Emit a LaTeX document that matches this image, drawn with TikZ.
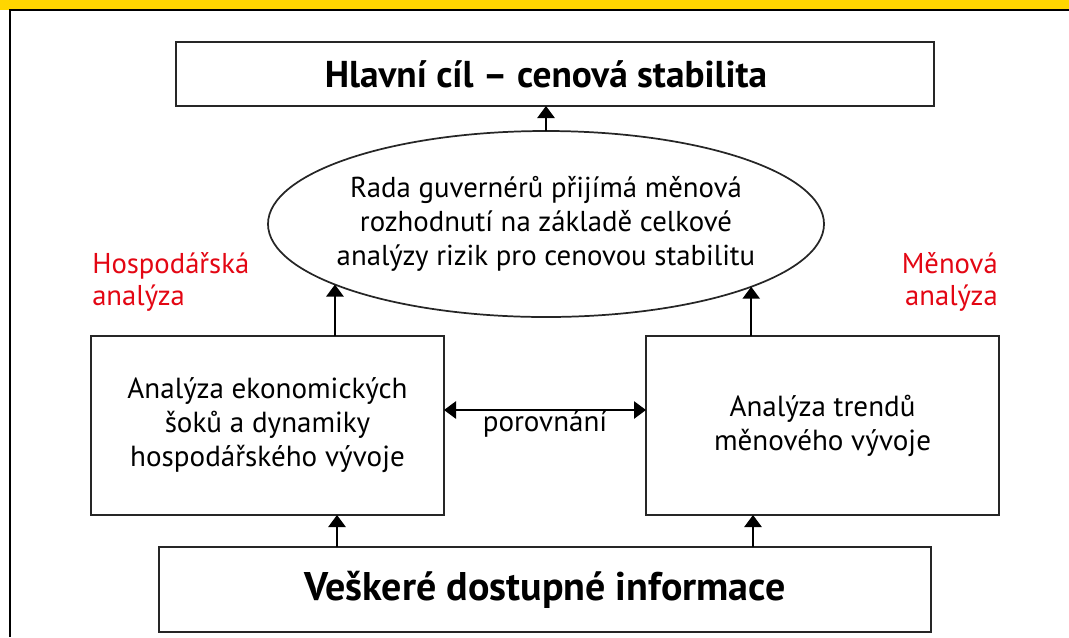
\documentclass[tikz,border=0pt]{standalone}
\usepackage{fontspec}
\setmainfont{PT Sans}
\usetikzlibrary{arrows.meta,shapes.geometric}
\definecolor{frameyellow}{RGB}{255,214,0}
\definecolor{labelred}{RGB}{227,6,19}
\tikzset{
  box/.style={draw=black!85,line width=1.5pt,rectangle,inner sep=0pt,outer sep=0pt},
  ellbox/.style={draw=black!85,line width=1.3pt,ellipse,inner sep=0pt,outer sep=0pt},
  bodytext/.style={align=center,font=\fontsize{21.8pt}{25.5pt}\selectfont},
  elltextstyle/.style={align=center,inner sep=0pt,font=\fontsize{21.6pt}{25.5pt}\selectfont},
  titletext/.style={inner sep=0pt,font=\fontsize{28pt}{32pt}\selectfont\bfseries},
  bottext/.style={font=\fontsize{30pt}{34pt}\selectfont\bfseries},
  redlabel/.style={text=labelred,font=\fontsize{21.5pt}{24pt}\selectfont,inner sep=0pt},
  arr/.style={line width=1.2pt,-{Triangle[width=13pt,length=9pt]}},
  darr/.style={line width=1.2pt,{Triangle[width=13pt,length=9pt]}-{Triangle[width=13pt,length=9pt]}}
}
\begin{document}
\begin{tikzpicture}[x=0.75pt,y=-0.75pt]
\useasboundingbox (0,0) rectangle (1069,637);
% frame
\fill[frameyellow] (0,0) rectangle (1069,10);
\draw[line width=1.6pt] (10,637) -- (10,10) -- (1069,10);
% nodes
\node[box,minimum width=568.5pt,minimum height=48pt] (top) at (555,74) {};
\node[titletext] (toptext) at (546,74) {Hlavní cíl – cenová stabilita};
\node[ellbox,minimum width=417pt,minimum height=139.5pt] (ell) at (546,224) {};
\node[elltextstyle] (elltext) at (546,224) {Rada guvernérů přijímá měnová\\rozhodnutí na základě celkové\\analýzy rizik pro cenovou stabilitu};
\node[box,minimum width=264.75pt,minimum height=134.25pt,bodytext] (left) at (267.5,425.5) {Analýza ekonomických\\šoků a dynamiky\\hospodářského vývoje};
\node[box,minimum width=264.75pt,minimum height=134.25pt,bodytext] (right) at (822.5,425.5) {Analýza trendů\\měnového vývoje};
\node[box,minimum width=579pt,minimum height=63.75pt,bottext] (bot) at (545,589.5) {Veškeré dostupné informace};
% red labels
\node[redlabel,anchor=north west,align=left] (hl) at (92,252) {Hospodářská\\analýza};
\node[redlabel,anchor=north east,align=right] (ml) at (998,252) {Měnová\\analýza};
% coordinates
\coordinate (lx) at (337,0);
\coordinate (rx) at (753,0);
\coordinate (py) at (0,410);
% connectors
\draw[arr] (ell.north) -- (top.south -| ell.north);
\draw[arr] (left.north -| ell.196.2) -- (ell.196.2);
\draw[arr] (right.north -| ell.343.5) -- (ell.343.5);
\draw[arr] (bot.north -| lx) -- (left.south -| lx);
\draw[arr] (bot.north -| rx) -- (right.south -| rx);
\draw[darr] (left.east |- py) -- (right.west |- py);
\node[bodytext,inner sep=0pt] (por) at (545,424) {porovnání};
\end{tikzpicture}
\end{document}
